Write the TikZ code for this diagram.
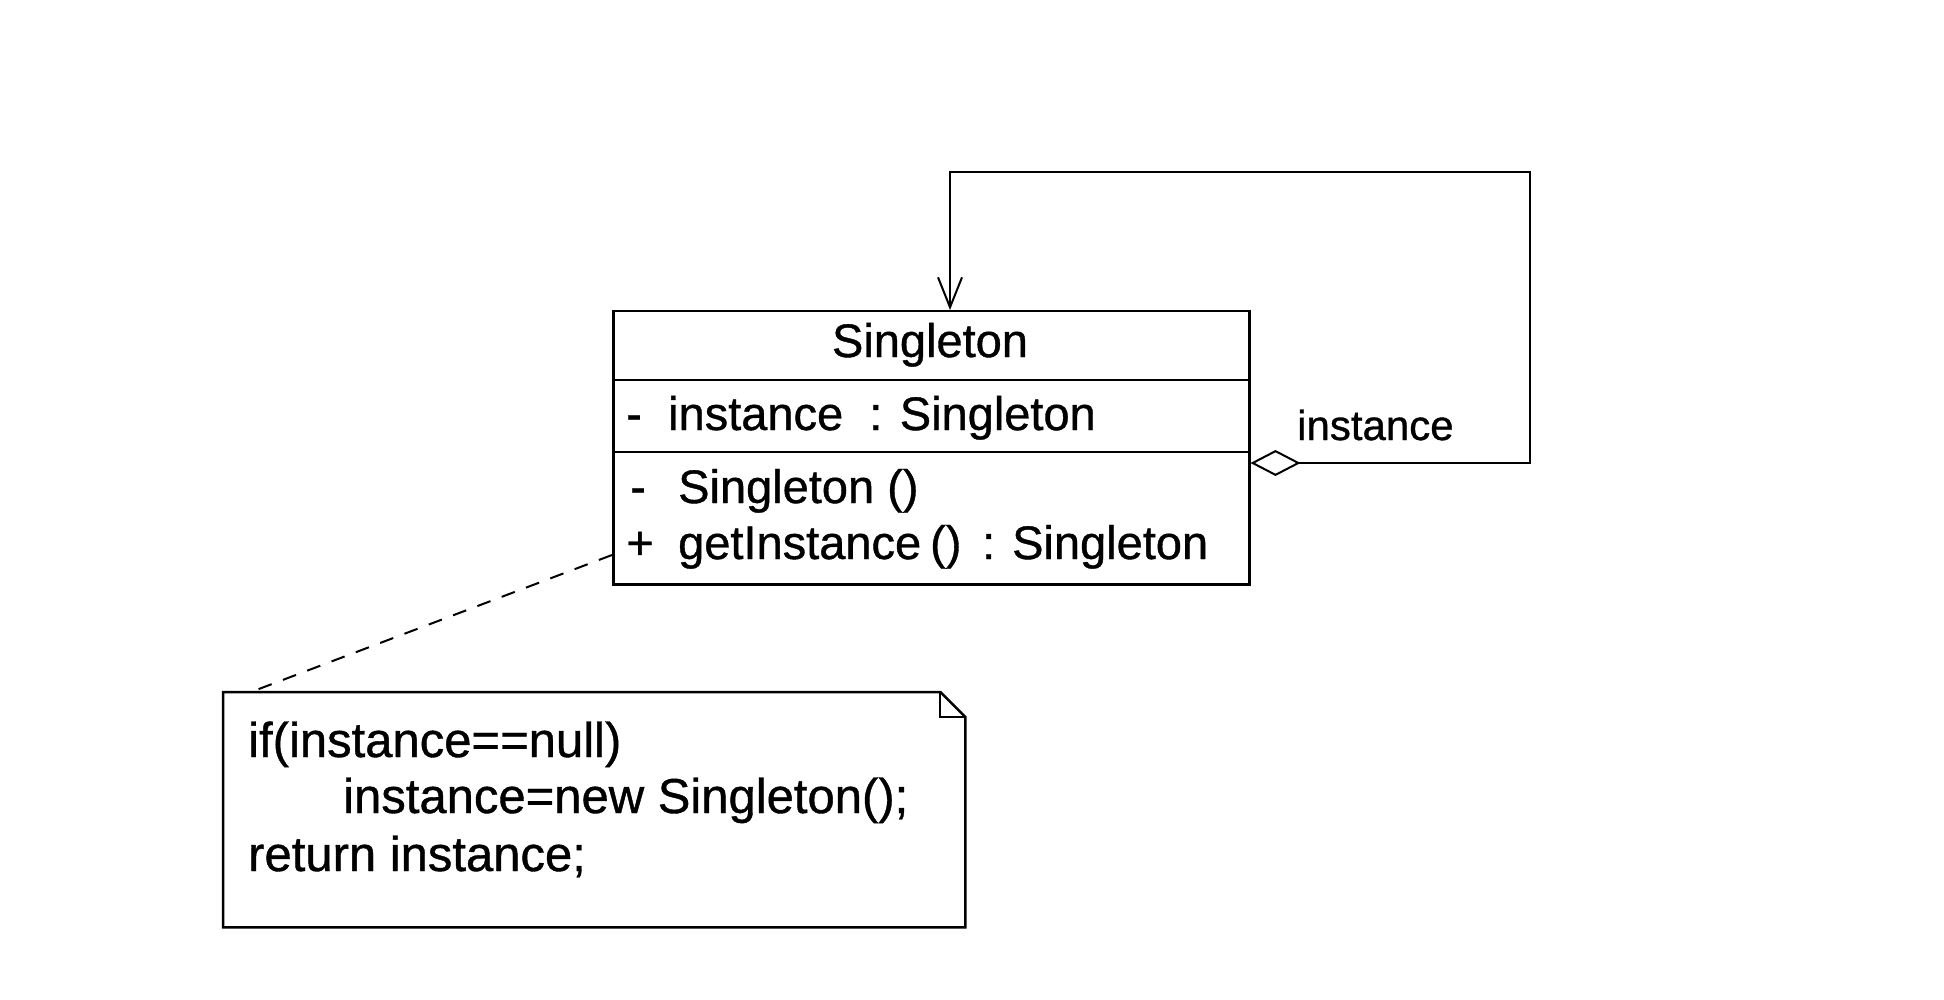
\documentclass[tikz,border=0pt]{standalone}
\usepackage{fontspec}
\setmainfont{Liberation Sans}
\newfontfamily\scanfont{Liberation Sans}[FakeBold=0.8]
\usetikzlibrary{arrows.meta}
\begin{document}
\begin{tikzpicture}[x=1pt,y=-1pt,
  txt/.style={inner sep=0pt,font=\scanfont\fontsize{47}{56}\selectfont},
  ntxt/.style={inner sep=0pt,font=\scanfont\fontsize{49}{58}\selectfont},
  ltxt/.style={inner sep=0pt,font=\scanfont\fontsize{42}{50}\selectfont},
  conn/.style={line width=2pt},
  boxline/.style={line width=2.5pt}]
\useasboundingbox[fill=white] (0,0) rectangle (1944,1000);
% class box
\node[draw,boxline,minimum width=636pt,minimum height=273pt,anchor=north west,inner sep=0pt] (cls) at (612,310) {};
\draw[boxline] (cls.west |- 0,380) -- (cls.east |- 0,380);
\draw[boxline] (cls.west |- 0,452) -- (cls.east |- 0,452);
\node[txt,anchor=base] (hdr) at (930,357) {Singleton};
\node[txt,anchor=base west] (attr) at (626,430) {\makebox[42pt][l]{-}instance\ \ : Singleton};
\node[txt,anchor=base west] (m1) at (630,503) {\makebox[48pt][l]{-}Singleton ()};
\node[txt,anchor=base west] (m2) at (626,559) {\makebox[52pt][l]{+}\makebox[252pt][l]{getInstance}\makebox[52pt][l]{()}\makebox[30pt][l]{:}Singleton};
% self association
\draw[conn,{Diamond[open,length=50pt,width=26pt,line width=2pt]}-{Straight Barb[length=30pt,width=24pt,line width=2pt]}]
  (cls.east |- 0,463) -- (1530,463) -- (1530,172) -- (950,172) -- (950,0 |- cls.north);
\node[ltxt,anchor=base west] (lbl) at (1297,440) {instance};
% note
\node[minimum width=742pt,minimum height=235pt,anchor=north west,inner sep=0pt] (note) at (223,692) {};
\draw[boxline] (note.north west) -- ([xshift=-25pt]note.north east) -- ([yshift=-25pt]note.north east) -- (note.south east) -- (note.south west) -- cycle;
\draw[conn] ([xshift=-25pt]note.north east) |- ([yshift=-25pt]note.north east);
\node[ntxt,anchor=base west] (n1) at (248,757) {if(instance==null)};
\node[ntxt,anchor=base west] (n2) at (343,813) {instance=new Singleton();};
\node[ntxt,anchor=base west] (n3) at (248,871) {return instance;};
\draw[conn,dash pattern=on 14pt off 12pt] (cls.west |- 0,555) -- ([xshift=28pt]note.north west);
\end{tikzpicture}
\end{document}
